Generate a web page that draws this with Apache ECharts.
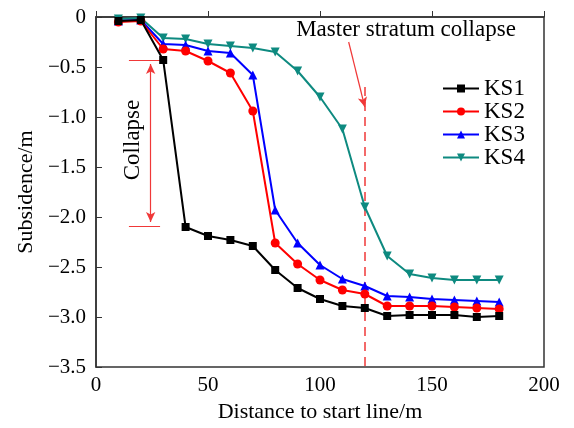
<!DOCTYPE html>
<html lang="en">
<head>
    <meta charset="UTF-8">
    <title>subsidence</title>
    <script src="https://cdn.jsdelivr.net/npm/echarts@6/dist/echarts.min.js"></script>
    <style>
        html, body, #main {
            padding: 0px;
            margin: 0px;
            width: 574px;
            height: 428px;
            background: #fff;
        }
    </style>
</head>
<body>
    <div id="main"></div>
    <script type="text/javascript">
        // distance along the face (m)
        const distance = [10, 20, 30, 40, 50, 60, 70, 80, 90, 100, 110, 120, 130, 140, 150, 160, 170, 180];
        const ks1 = [-0.04, -0.03, -0.43, -2.1, -2.19, -2.23, -2.29, -2.53, -2.71, -2.82, -2.89, -2.91, -2.99, -2.98, -2.98, -2.98, -3.0, -2.99];
        const ks2 = [-0.05, -0.04, -0.32, -0.34, -0.44, -0.56, -0.94, -2.26, -2.47, -2.63, -2.73, -2.77, -2.89, -2.89, -2.89, -2.9, -2.91, -2.92];
        const ks3 = [-0.04, -0.03, -0.27, -0.28, -0.34, -0.36, -0.58, -1.93, -2.26, -2.48, -2.62, -2.69, -2.79, -2.8, -2.82, -2.83, -2.84, -2.85];
        const ks4 = [-0.02, -0.01, -0.21, -0.22, -0.27, -0.29, -0.31, -0.35, -0.54, -0.8, -1.12, -1.9, -2.39, -2.57, -2.61, -2.63, -2.63, -2.63];
        const seriesNames = ['KS1', 'KS2', 'KS3', 'KS4'];
        const xTicks = [0, 50, 100, 150, 200];
        const yTicks = [0, -0.5, -1.0, -1.5, -2.0, -2.5, -3.0, -3.5];

        const font = 'Liberation Serif';
        const colors = ['#000000', '#ff0000', '#0000ff', '#0e8a80'];
        const symbols = ['rect', 'circle', 'triangle', 'triangle'];
        const values = [ks1, ks2, ks3, ks4];

        const chart = echarts.init(document.getElementById('main'));

        let series = values.map((v, i) => ({
            name: seriesNames[i],
            type: 'line',
            data: distance.map((d, k) => [d, v[k]]),
            symbol: symbols[i],
            symbolSize: i == 0 ? 8 : 9,
            symbolRotate: i == 3 ? 180 : 0,
            showAllSymbol: true,
            color: colors[i],
            lineStyle: { width: 2, color: colors[i] },
            itemStyle: { color: colors[i] },
            z: 10 - i
        }));

        // annotation lines in data space
        const red = '#f03838';
        series.push({
            type: 'line',
            data: [],
            silent: true,
            markLine: {
                silent: true,
                animation: false,
                label: { show: false },
                symbolSize: [7, 10],
                data: [
                    [{ coord: [24.4, -0.47], symbol: 'arrow', lineStyle: { color: red, width: 1.2, type: 'solid' } },
                     { coord: [24.4, -2.05], symbol: 'arrow' }],
                    [{ coord: [14.7, -0.43], symbol: 'none', lineStyle: { color: red, width: 1.2, type: 'solid' } },
                     { coord: [28.6, -0.43], symbol: 'none' }],
                    [{ coord: [14.7, -2.09], symbol: 'none', lineStyle: { color: red, width: 1.2, type: 'solid' } },
                     { coord: [28.6, -2.09], symbol: 'none' }],
                    [{ coord: [120, -0.7], symbol: 'none', lineStyle: { color: red, width: 1.5, type: [9, 6] } },
                     { coord: [120, -3.5], symbol: 'none' }],
                    [{ coord: [112.8, -0.25], symbol: 'none', lineStyle: { color: red, width: 1.2, type: 'solid' } },
                     { coord: [120, -0.9], symbol: 'arrow' }]
                ]
            }
        });

        const option = {
            animation: false,
            backgroundColor: '#fff',
            textStyle: { fontFamily: font },
            grid: {
                left: 96, right: 30, top: 17, bottom: 60,
                show: true,
                borderColor: '#333',
                borderWidth: 1.5
            },
            legend: {
                data: seriesNames,
                orient: 'vertical',
                left: 437,
                top: 72,
                itemWidth: 36,
                itemHeight: 10,
                itemGap: 0,
                textStyle: { fontFamily: font, fontSize: 23, color: '#000' }
            },
            xAxis: {
                type: 'value',
                min: xTicks[0],
                max: xTicks[xTicks.length - 1],
                interval: 50,
                name: 'Distance to start line/m',
                nameLocation: 'middle',
                nameGap: 34,
                nameTextStyle: { fontFamily: font, fontSize: 22, color: '#000' },
                axisLine: { lineStyle: { color: '#333', width: 1.5 } },
                axisTick: { inside: true, length: 6, lineStyle: { color: '#333' } },
                axisLabel: { fontFamily: font, fontSize: 21, color: '#000', margin: 8 },
                splitLine: { show: false }
            },
            yAxis: {
                type: 'value',
                min: yTicks[yTicks.length - 1],
                max: yTicks[0],
                interval: 0.5,
                name: 'Subsidence/m',
                nameLocation: 'middle',
                nameGap: 57,
                nameTextStyle: { fontFamily: font, fontSize: 22, color: '#000' },
                axisLine: { show: true, lineStyle: { color: '#333', width: 1.5 } },
                axisTick: { show: true, inside: true, length: 6, lineStyle: { color: '#333' } },
                axisLabel: {
                    fontFamily: font, fontSize: 21, color: '#000', margin: 10,
                    formatter: v => v === 0 ? '0' : '\u2212' + Math.abs(v).toFixed(1)
                },
                splitLine: { show: false }
            },
            series: series
        };
        chart.setOption(option);

        // text annotations placed through the axes
        const p1 = chart.convertToPixel({ gridIndex: 0 }, [138.4, -0.13]);
        const p2 = chart.convertToPixel({ gridIndex: 0 }, [16.5, -1.23]);
        chart.setOption({
            graphic: [
                {
                    type: 'text', x: p1[0], y: p1[1],
                    style: { text: 'Master stratum collapse', fontFamily: font, fontSize: 23, fill: '#000', align: 'center', verticalAlign: 'middle' }
                },
                {
                    type: 'text', x: p2[0], y: p2[1], rotation: Math.PI / 2,
                    style: { text: 'Collapse', fontFamily: font, fontSize: 23, fill: '#000', align: 'center', verticalAlign: 'middle' }
                }
            ]
        });
    </script>
</body>
</html>
